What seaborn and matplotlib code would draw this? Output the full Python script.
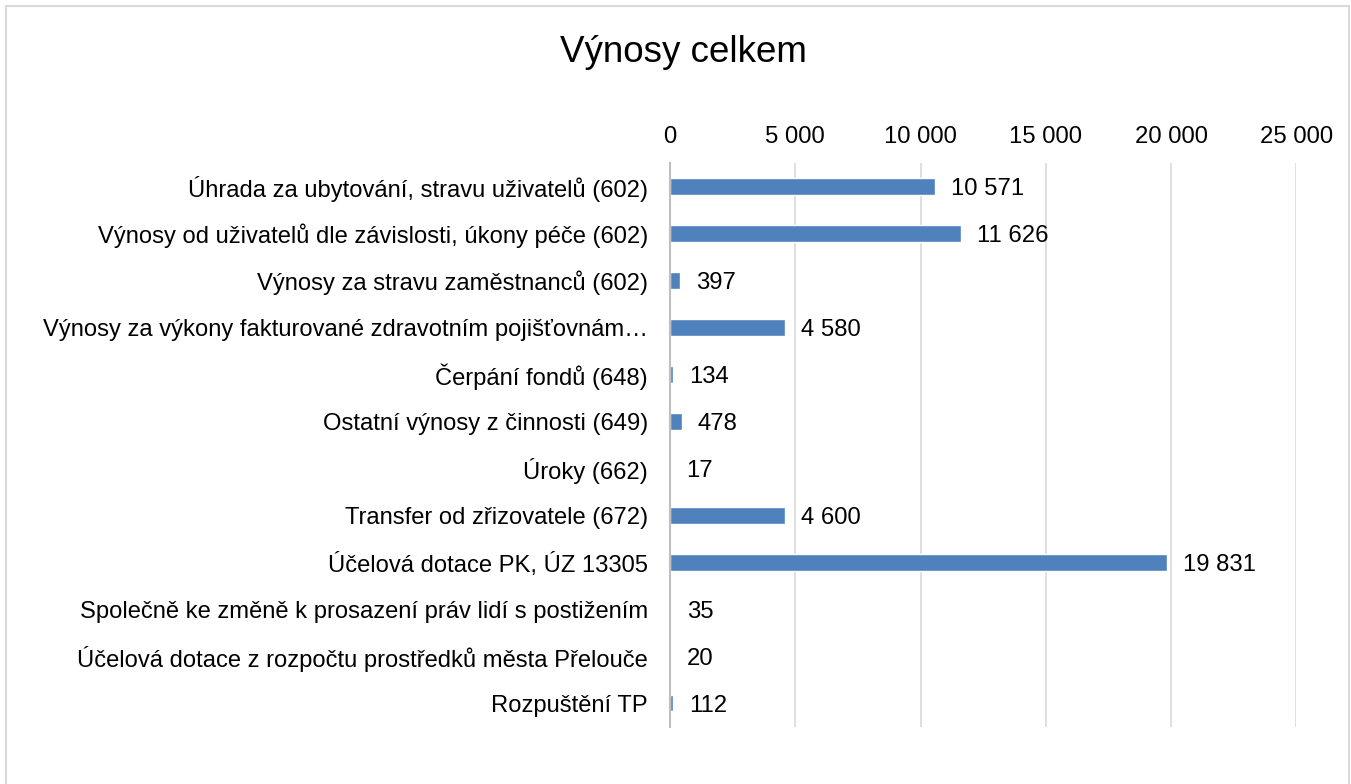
import matplotlib
matplotlib.use("Agg")
import matplotlib.pyplot as plt
import seaborn as sns
import pandas as pd
from matplotlib.patches import Rectangle
from matplotlib.ticker import FuncFormatter

categories = [
    "Úhrada za ubytování, stravu uživatelů (602)",
    "Výnosy od uživatelů dle závislosti, úkony péče (602)",
    "Výnosy za stravu zaměstnanců (602)",
    "Výnosy za výkony fakturované zdravotním pojišťovnám…",
    "Čerpání fondů (648)",
    "Ostatní výnosy z činnosti (649)",
    "Úroky (662)",
    "Transfer od zřizovatele (672)",
    "Účelová dotace PK, ÚZ 13305",
    "Společně ke změně k prosazení práv lidí s postižením",
    "Účelová dotace z rozpočtu prostředků města Přelouče",
    "Rozpuštění TP",
]
values = [10571, 11626, 397, 4580, 134, 478, 17, 4600, 19831, 35, 20, 112]
ticks = [0, 5000, 10000, 15000, 20000, 25000]

df = pd.DataFrame({"cat": categories, "val": values})

sns.set_theme(style="white")
plt.rcParams["font.family"] = ["Liberation Sans", "DejaVu Sans"]

W, H = 1351, 784
fig = plt.figure(figsize=(W / 100, H / 100), dpi=100)
ax = fig.add_axes([670 / W, 1 - 726.5 / H, (1296.3 - 670) / W, (726.5 - 163) / H])

sns.barplot(data=df, x="val", y="cat", orient="h", color="#4F81BD",
            saturation=1, width=0.36, ax=ax)

ax.set_xlim(0, 25000)
ax.set_ylim(len(categories) - 0.5, -0.5)
ax.set_xticks(ticks)
ax.xaxis.set_major_formatter(FuncFormatter(lambda v, p: f"{int(v):,}".replace(",", " ")))
ax.xaxis.tick_top()
ax.tick_params(axis="x", length=0, pad=11, labelsize=17.2, colors="#000000")
ax.tick_params(axis="y", length=0, pad=16, labelsize=17.1, colors="#000000")
ax.set_xlabel("")
ax.set_ylabel("")
ax.grid(axis="x", color="#D9D9D9", linewidth=1.2)
ax.set_axisbelow(True)
for s in ["top", "right", "bottom"]:
    ax.spines[s].set_visible(False)
ax.spines["left"].set_color("#BFBFBF")
ax.spines["left"].set_linewidth(1.5)

for i, v in enumerate(values):
    ax.annotate(f"{v:,}".replace(",", " "), xy=(v, i), xytext=(11.5, 0),
                textcoords="offset points", va="center_baseline", ha="left",
                fontsize=17.2, color="#000000")

fig.text(683 / W, 1 - 52 / H, "Výnosy celkem", ha="center", va="center",
         fontsize=26.5, color="#000000")

fig.patches.append(Rectangle((6 / W, -0.05), (1349 - 6) / W, 1 - 6 / H + 0.05,
                             transform=fig.transFigure, fill=False,
                             edgecolor="#D9D9D9", linewidth=1.5))

fig.savefig("out.png", dpi=100)
